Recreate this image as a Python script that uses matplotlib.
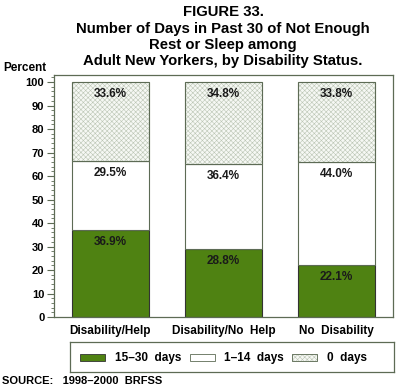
import matplotlib
matplotlib.use("Agg")
import matplotlib.pyplot as plt
import numpy as np
from matplotlib.patches import Rectangle
from matplotlib.ticker import MultipleLocator

categories = ["Disability/Help", "Disability/No  Help", "No  Disability"]
days_15_30 = [36.9, 28.8, 22.1]
days_1_14 = [29.5, 36.4, 44.0]
days_0 = [33.6, 34.8, 33.8]
series_names = ["15\u201330  days", "1\u201314  days", "0  days"]
yticks = list(range(0, 101, 10))

plt.rcParams['font.family'] = ['Liberation Sans', 'DejaVu Sans']
plt.rcParams['font.weight'] = 'bold'
plt.rcParams['hatch.linewidth'] = 0.4

GREEN = '#4f8212'
FRAME = '#5d6b55'
HATCH_C = '#bcc6b5'

fig = plt.figure(figsize=(3.97, 3.88), dpi=100)
W, H = 397, 388
ax = fig.add_axes([54 / W, 1 - 317 / H, (393 - 54) / W, (317 - 75) / H])

x = np.arange(len(categories))
bw = 0.68
b1 = ax.bar(x, days_15_30, bw, color=GREEN, edgecolor='#333333', linewidth=0.8)
b2 = ax.bar(x, days_1_14, bw, bottom=days_15_30, color='white', edgecolor=FRAME, linewidth=0.8)
bottom3 = [a + b for a, b in zip(days_15_30, days_1_14)]
b3 = ax.bar(x, days_0, bw, bottom=bottom3, color='#f6f8f4', edgecolor=HATCH_C,
            hatch='xxxxxxx', linewidth=0.8)
for r in b3:
    ax.add_patch(Rectangle(r.get_xy(), r.get_width(), r.get_height(), fill=False,
                           edgecolor=FRAME, linewidth=0.8))

for i in range(len(categories)):
    for bot, val in [(0, days_15_30[i]), (days_15_30[i], days_1_14[i]), (bottom3[i], days_0[i])]:
        ax.text(x[i], bot + val - 2.6, f"{val:.1f}%", ha='center', va='top',
                fontsize=8.5, fontweight='bold', color='#1a1a1a')

ax.set_xlim(-0.5, 2.5)
ax.set_ylim(0, 103)
ax.set_yticks(yticks)
ax.yaxis.set_minor_locator(MultipleLocator(2))
ax.tick_params(axis='y', which='major', length=5, width=0.8, color=FRAME, labelsize=8, pad=2)
ax.tick_params(axis='y', which='minor', length=2.5, width=0.6, color=FRAME)
ax.set_xticks(x)
ax.set_xticklabels(categories, fontsize=8.5, fontweight='bold')
ax.tick_params(axis='x', length=0, pad=6)
for s in ax.spines.values():
    s.set_color(FRAME)
    s.set_linewidth(0.9)

fig.text(3 / W, 1 - 68 / H, "Percent", fontsize=8.5, fontweight='bold', va='center', ha='left')

title_lines = ["FIGURE 33.", "Number of Days in Past 30 of Not Enough",
               "Rest or Sleep among", "Adult New Yorkers, by Disability Status."]
for k, line in enumerate(title_lines):
    fig.text(223 / W, 1 - (12 + 16.5 * k) / H, line, fontsize=10.7, fontweight='bold',
             ha='center', va='center')

# legend box
lax = fig.add_axes([70 / W, 1 - 372 / H, (394 - 70) / W, 30 / H])
lax.set_xlim(70, 394)
lax.set_ylim(0, 30)
lax.set_xticks([])
lax.set_yticks([])
for s in lax.spines.values():
    s.set_color(FRAME)
    s.set_linewidth(0.9)
lax.add_patch(Rectangle((80, 11), 25, 7, facecolor=GREEN, edgecolor='#333333', linewidth=0.6))
lax.text(115, 14.5, series_names[0], fontsize=8.5, fontweight='bold', va='center')
lax.add_patch(Rectangle((190, 11), 25, 7, facecolor='white', edgecolor=FRAME, linewidth=0.6))
lax.text(224, 14.5, series_names[1], fontsize=8.5, fontweight='bold', va='center')
lax.add_patch(Rectangle((292, 11), 25, 7, facecolor='#f6f8f4', edgecolor=HATCH_C,
                        hatch='xxxxxxx', linewidth=0.6))
lax.add_patch(Rectangle((292, 11), 25, 7, fill=False, edgecolor=FRAME, linewidth=0.6))
lax.text(327, 14.5, series_names[2], fontsize=8.5, fontweight='bold', va='center')

fig.text(2 / W, 1 - 381 / H, "SOURCE:   1998\u20132000  BRFSS", fontsize=8,
         fontweight='bold', va='center', ha='left')

fig.savefig("out.png", dpi=100)
